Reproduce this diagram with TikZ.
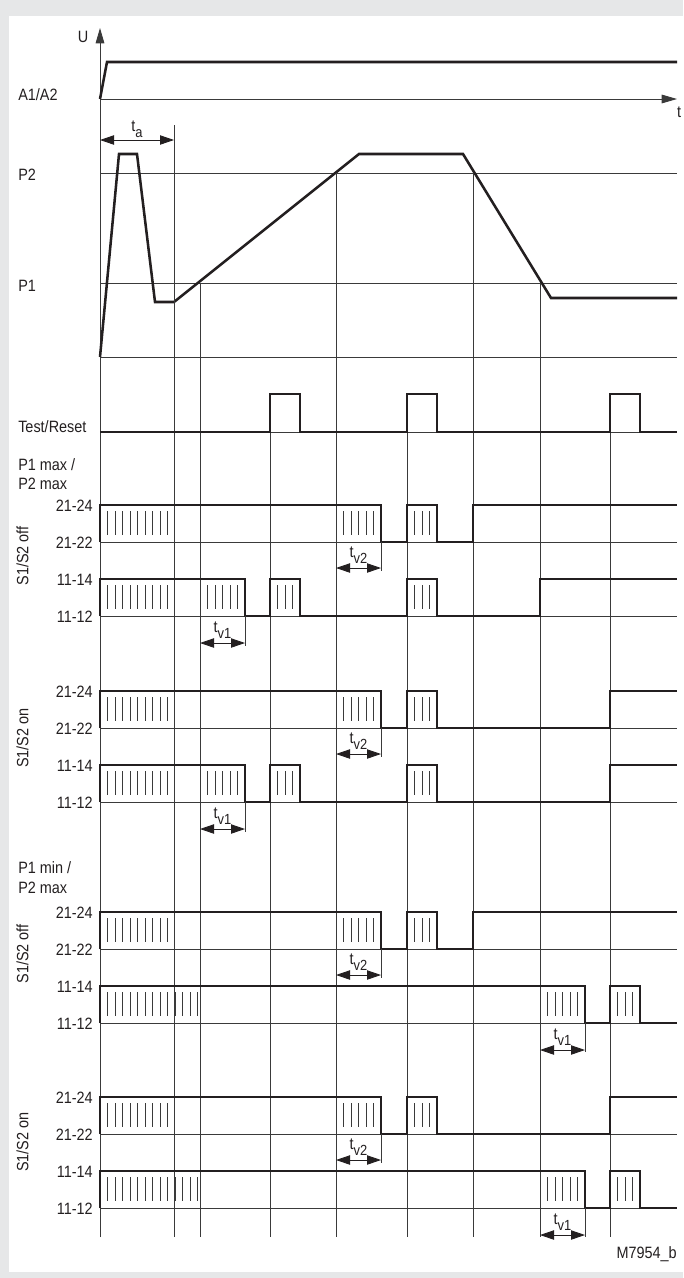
\documentclass[tikz,border=0pt]{standalone}
\usepackage{fontspec}
\setmainfont[FakeStretch=0.88]{Liberation Sans}
\usetikzlibrary{arrows.meta}
\definecolor{bggray}{HTML}{E6E7E8}
\definecolor{ink}{HTML}{231F20}
\definecolor{thinink}{HTML}{3A3A3A}
\newcommand{\hatchrun}[4]{\foreach \k in {1,...,#2}{\draw[thinl] ({#1+7.5*\k},{#3+6}) -- ({#1+7.5*\k},{#4-7});}}
\newcommand{\tsub}[1]{t\raisebox{-5pt}{\fontsize{11}{11}\selectfont #1}}
% row 21-24 : #1 high y, #2 x of final rise, #3 name prefix
\newcommand{\rowcontactA}[3]{%
  \draw[thinl] (100,#1+37) -- (677,#1+37);
  \draw[sig] (100,#1+37) -- (100,#1) -- (381,#1) -- (381,#1+37) -- (407,#1+37) -- (407,#1) -- (437,#1) -- (437,#1+37) -- (#2,#1+37) -- (#2,#1) -- (677,#1);
  \hatchrun{100}{9}{#1}{#1+37}
  \hatchrun{336}{5}{#1}{#1+37}
  \hatchrun{407}{3}{#1}{#1+37}
  \draw[thinl] (381,#1+37) -- (381,#1+66);
  \coordinate (#3tvL) at (336,#1+63);
  \coordinate (#3tvR) at (381,#1+63);
  \draw[dimarrow] (#3tvL) -- (#3tvR);
  \node[lbl,anchor=base] (#3tvlab) at (358.5,#1+52) {\tsub{v2}};
}
% row 11-14 for P1 max : #1 high y, #2 x of final rise, #3 prefix
\newcommand{\rowcontactBmax}[3]{%
  \draw[thinl] (100,#1+37) -- (677,#1+37);
  \draw[sig] (100,#1+37) -- (100,#1) -- (245,#1) -- (245,#1+37) -- (270,#1+37) -- (270,#1) -- (300,#1) -- (300,#1+37) -- (407,#1+37) -- (407,#1) -- (437,#1) -- (437,#1+37) -- (#2,#1+37) -- (#2,#1) -- (677,#1);
  \hatchrun{100}{9}{#1}{#1+37}
  \hatchrun{200}{5}{#1}{#1+37}
  \hatchrun{270}{3}{#1}{#1+37}
  \hatchrun{407}{3}{#1}{#1+37}
  \draw[thinl] (245,#1+37) -- (245,#1+67);
  \coordinate (#3tvL) at (200,#1+64);
  \coordinate (#3tvR) at (245,#1+64);
  \draw[dimarrow] (#3tvL) -- (#3tvR);
  \node[lbl,anchor=base] (#3tvlab) at (222.5,#1+53) {\tsub{v1}};
}
% row 11-14 for P1 min : #1 high y, #2 prefix
\newcommand{\rowcontactBmin}[2]{%
  \draw[thinl] (100,#1+37) -- (677,#1+37);
  \draw[sig] (100,#1+37) -- (100,#1) -- (585,#1) -- (585,#1+37) -- (610,#1+37) -- (610,#1) -- (640,#1) -- (640,#1+37) -- (677,#1+37);
  \hatchrun{100}{13}{#1}{#1+37}
  \hatchrun{540}{5}{#1}{#1+37}
  \hatchrun{610}{3}{#1}{#1+37}
  \draw[thinl] (585,#1+37) -- (585,#1+66);
  \coordinate (#2tvL) at (540,#1+64);
  \coordinate (#2tvR) at (585,#1+64);
  \draw[dimarrow] (#2tvL) -- (#2tvR);
  \node[lbl,anchor=base] (#2tvlab) at (562.5,#1+53) {\tsub{v1}};
}
% labels of a section : #1 top y, #2 mode text, #3 rotated label centre y, #4 prefix
\newcommand{\sectionlabels}[4]{%
  \node[lbl,anchor=base east] (#4la) at (93,#1+6) {21-24};
  \node[lbl,anchor=base east] (#4lb) at (93,#1+43) {21-22};
  \node[lbl,anchor=base east] (#4lc) at (93,#1+80) {11-14};
  \node[lbl,anchor=base east] (#4ld) at (93,#1+117) {11-12};
  \node[lbl,rotate=90] (#4mode) at (22.5,#3) {#2};
}
\begin{document}
\begin{tikzpicture}[x=0.75pt,y=-0.75pt,
  thinl/.style={line width=0.65pt,draw=thinink},
  sig/.style={line width=1.9pt,draw=ink,line join=miter,line cap=butt},
  lbl/.style={font=\fontsize{12.3}{14}\selectfont,inner sep=0pt,text=ink},
  dimarrow/.style={line width=0.65pt,draw=ink,{Triangle[length=10.5pt,width=7pt]}-{Triangle[length=10.5pt,width=7pt]}},
  axarrow/.style={thinl,-{Triangle[length=11.5pt,width=6.5pt]}},
]
\fill[bggray] (0,0) rectangle (683,1278);
\useasboundingbox (0,0) rectangle (683,1278);
\fill[white] (9,16) rectangle (683,1272);

% ---- axes ----
\coordinate (Ubot) at (100,1237);
\coordinate (Utop) at (100,28);
\draw[axarrow] (Ubot) -- (Utop);
\coordinate (tleft) at (100,99);
\coordinate (tright) at (677,99);
\draw[axarrow] (tleft) -- (tright);
\node[lbl,anchor=base] (labU) at (83,42) {U};
\node[lbl,anchor=base] (labt) at (679,117) {t};

% ---- A1/A2 ----
\node[lbl,anchor=base west] (labA) at (18,100) {A1/A2};
\draw[sig] (100,99) -- (107,62) -- (677,62);

% ---- t_a ----
\coordinate (taL) at (100,140);
\coordinate (taR) at (174,140);
\draw[dimarrow] (taL) -- (taR);
\node[lbl,anchor=base] (labta) at (137,131) {t\raisebox{-5pt}{\fontsize{11}{11}\selectfont a}};

% ---- pressure levels ----
\node[lbl,anchor=base west] (labP2) at (18,180) {P2};
\node[lbl,anchor=base west] (labP1) at (18,291) {P1};
\draw[thinl] (100,173) -- (677,173);
\draw[thinl] (100,283) -- (677,283);
\draw[thinl] (100,357) -- (677,357);
\draw[sig] (100,357) -- (119,154) -- (137,154) -- (155,302) -- (174,302) -- (359,154) -- (463,154) -- (551,298) -- (677,298);

% ---- grid verticals ----
\draw[thinl] (174,125) -- (174,1237);
\draw[thinl] (200,283) -- (200,1237);
\draw[thinl] (270,394) -- (270,1237);
\draw[thinl] (336,173) -- (336,1237);
\draw[thinl] (407,394) -- (407,1237);
\draw[thinl] (473,173) -- (473,1237);
\draw[thinl] (540,283) -- (540,1237);
\draw[thinl] (610,394) -- (610,1237);

% ---- Test/Reset ----
\node[lbl,anchor=base west] (labTR) at (18,432) {Test/Reset};
\draw[thinl] (100,432) -- (677,432);
\draw[sig] (100,432) -- (270,432) -- (270,394) -- (300,394) -- (300,432) -- (407,432) -- (407,394) -- (437,394) -- (437,432) -- (610,432) -- (610,394) -- (640,394) -- (640,432) -- (677,432);

% ---- P1 max / P2 max ----
\node[lbl,anchor=base west] (labmaxa) at (18,470) {P1 max /};
\node[lbl,anchor=base west] (labmaxb) at (18,489) {P2 max};
\sectionlabels{505}{S1/S2 off}{556}{sa}
\rowcontactA{505}{473}{saA}
\rowcontactBmax{579}{540}{saB}
\sectionlabels{691}{S1/S2 on}{738}{sb}
\rowcontactA{691}{610}{sbA}
\rowcontactBmax{765}{610}{sbB}

% ---- P1 min / P2 max ----
\node[lbl,anchor=base west] (labmina) at (18,873) {P1 min /};
\node[lbl,anchor=base west] (labminb) at (18,893) {P2 max};
\sectionlabels{912}{S1/S2 off}{954}{sc}
\rowcontactA{912}{473}{scA}
\rowcontactBmin{986}{scB}
\sectionlabels{1097}{S1/S2 on}{1142}{sd}
\rowcontactA{1097}{610}{sdA}
\rowcontactBmin{1171}{sdB}

\node[lbl,anchor=base east] (labcode) at (677,1258) {M7954\_b};
\end{tikzpicture}
\end{document}
